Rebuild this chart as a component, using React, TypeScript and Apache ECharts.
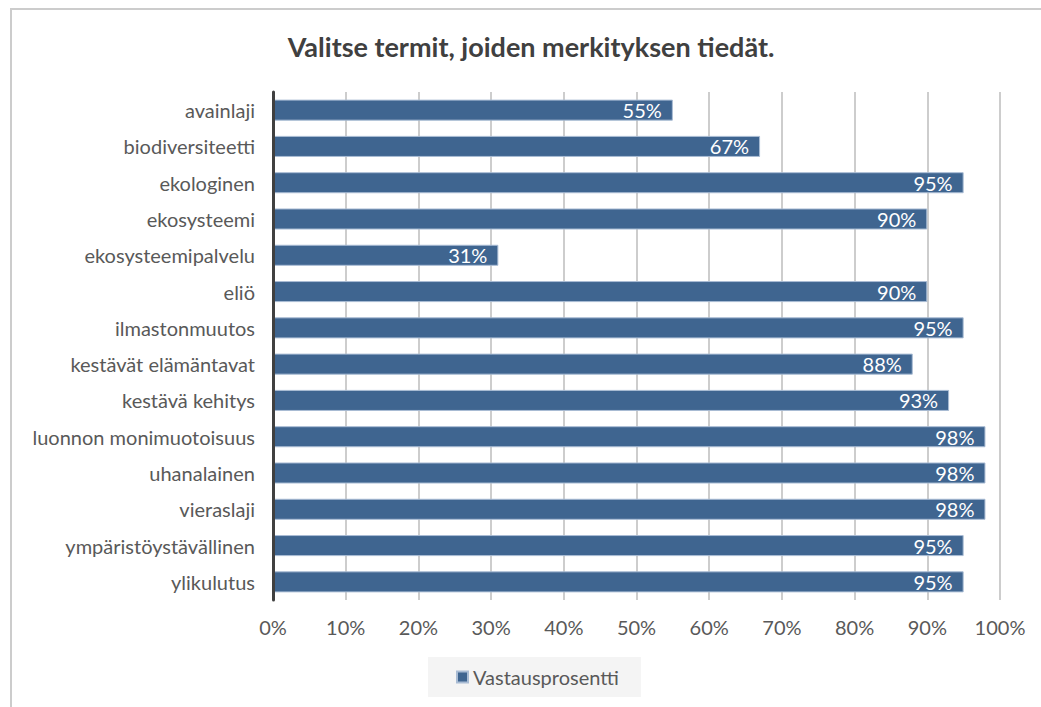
import React, { useEffect, useRef } from "react";
import * as echarts from "echarts";

const categories = [
  "avainlaji",
  "biodiversiteetti",
  "ekologinen",
  "ekosysteemi",
  "ekosysteemipalvelu",
  "eliö",
  "ilmastonmuutos",
  "kestävät elämäntavat",
  "kestävä kehitys",
  "luonnon monimuotoisuus",
  "uhanalainen",
  "vieraslaji",
  "ympäristöystävällinen",
  "ylikulutus",
];
const values = [55, 67, 95, 90, 31, 90, 95, 88, 93, 98, 98, 98, 95, 95];
const seriesName = "Vastausprosentti";
const title = "Valitse termit, joiden merkityksen tiedät.";

export default function App() {
  const ref = useRef<HTMLDivElement>(null);
  useEffect(() => {
    document.body.style.margin = "0";
    document.body.style.overflow = "hidden";
    const chart = echarts.init(ref.current!, null, { renderer: "svg" });
    const font = "Lato, 'Open Sans', sans-serif";
    chart.setOption({
      animation: false,
      textStyle: { fontFamily: font },
      title: {
        text: title,
        left: 526,
        top: 28,
        textAlign: "center",
        textStyle: { fontSize: 27, fontWeight: "bold", color: "#404040", fontFamily: font },
      },
      graphic: [
        {
          type: "rect",
          shape: { x: 11, y: 9, width: 1100, height: 800 },
          style: { fill: "none", stroke: "#cccccc", lineWidth: 2 },
          silent: true,
        },
      ],
      legend: {
        data: [seriesName],
        left: 428,
        top: 657,
        padding: [10, 22, 10, 28],
        backgroundColor: "#f4f4f4",
        itemWidth: 11,
        itemHeight: 11,
        itemGap: 6,
        icon: "rect",
        textStyle: { fontSize: 20, color: "#595959", fontFamily: font },
      },
      grid: { left: 273, right: 41, top: 92, bottom: 107, containLabel: false },
      xAxis: {
        type: "value",
        min: 0,
        max: 100,
        interval: 10,
        axisLabel: {
          formatter: "{value}%",
          fontSize: 20,
          color: "#595959",
          margin: 17,
          fontFamily: font,
        },
        axisLine: { show: false },
        axisTick: { show: false },
        splitLine: { show: true, lineStyle: { color: "#bdbdbd", width: 1.5 } },
      },
      yAxis: {
        type: "category",
        data: categories,
        inverse: true,
        z: 4,
        axisLine: { show: true, lineStyle: { color: "#404040", width: 3 } },
        axisTick: { show: false },
        axisLabel: { fontSize: 20, color: "#595959", margin: 18, fontFamily: font },
      },
      series: [
        {
          name: seriesName,
          type: "bar",
          data: values,
          barCategoryGap: "42%",
          itemStyle: { color: "#3f6590", borderColor: "#a9bcd4", borderWidth: 1 },
          label: {
            show: true,
            position: "insideRight",
            distance: 11,
            formatter: "{c}%",
            color: "#ffffff",
            fontSize: 20,
            fontFamily: font,
          },
        },
      ],
    });
    return () => chart.dispose();
  }, []);
  return <div ref={ref} style={{ width: 1041, height: 707 }} />;
}
